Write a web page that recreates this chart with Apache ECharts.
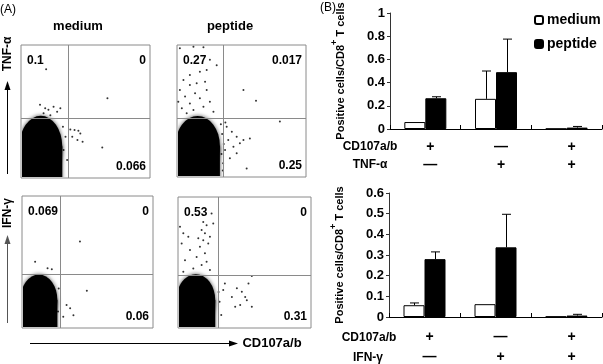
<!DOCTYPE html>
<html>
<head>
<meta charset="utf-8">
<script src="https://cdn.jsdelivr.net/npm/echarts/dist/echarts.min.js"></script>
<style>
  html, body { margin: 0; padding: 0; background: #fff; }
  #chart { width: 603px; height: 364px; }
</style>
</head>
<body>
<div id="chart"></div>
<script>
// ---- panel A: flow plots (axes are log10 fluorescence, 0..4) ----
// gates [x, y]
var gateTL = [1.46, 1.80];
var gateTR = [1.43, 1.79];
var gateBL = [1.16, 1.64];
var gateBR = [1.20, 1.62];
// main population outline [xLeft, xRight, yShoulder, yTop]
var blobTL = [[-0.05, 1.28, 0.95, 1.87]];
var blobTR = [[-0.05, 1.33, 0.95, 1.85]];
var blobBL = [[-0.05, 1.08, 0.85, 1.62]];
var blobBR = [[-0.05, 1.12, 0.85, 1.64]];
// stray events
var dotsTL = [[0.78, 3.27], [2.68, 2.40], [2.52, 0.92], [1.53, 1.46], [1.66, 1.44], [1.78, 1.42],
  [1.84, 1.34], [1.59, 1.24], [1.75, 1.14], [1.91, 1.09], [0.59, 2.20], [0.75, 2.10], [0.85, 2.05],
  [1.01, 2.14], [1.12, 1.99], [0.70, 1.95], [0.91, 1.89], [1.22, 2.10], [1.32, 0.84], [1.38, 1.24],
  [1.30, 1.54], [1.43, 0.54]];
var dotsTR = [[0.09, 3.90], [0.51, 3.95], [0.82, 3.93], [1.02, 3.55], [1.23, 3.39], [0.92, 3.24],
  [0.71, 3.19], [0.40, 3.09], [0.20, 2.94], [0.87, 2.89], [0.61, 2.84], [0.40, 2.79], [0.09, 2.64],
  [0.92, 2.64], [0.56, 2.54], [0.25, 2.44], [0.71, 2.39], [0.04, 2.28], [0.40, 2.23], [1.02, 2.28],
  [0.82, 2.13], [0.15, 2.08], [0.51, 2.03], [1.13, 1.98], [0.30, 1.93], [2.06, 2.64], [2.45, 2.31],
  [3.19, 1.68], [1.54, 1.52], [1.70, 1.37], [1.85, 1.22], [1.59, 1.12], [1.95, 1.02], [1.75, 0.92],
  [2.06, 1.12], [2.26, 1.17], [1.49, 0.82], [1.85, 0.72], [1.64, 0.57], [2.16, 0.26], [1.43, 0.42],
  [1.40, 1.30], [1.45, 1.00], [1.38, 0.70], [1.50, 1.65], [1.36, 1.60], [1.42, 0.20]];
var dotsBL = [[0.40, 2.01], [0.78, 1.81], [0.91, 1.78], [1.77, 2.62], [1.98, 1.13], [1.36, 0.70],
  [1.47, 0.60], [1.57, 0.39], [1.26, 0.34], [1.12, 1.20], [1.10, 0.50]];
var dotsBR = [[0.76, 3.24], [0.86, 3.14], [0.71, 2.99], [0.81, 2.89], [0.96, 2.79], [0.61, 2.74],
  [0.76, 2.68], [0.91, 2.58], [0.66, 2.48], [0.16, 2.89], [0.31, 2.79], [0.11, 2.58], [0.36, 2.38],
  [0.81, 2.28], [0.56, 2.17], [0.21, 2.07], [0.86, 2.02], [0.71, 1.92], [0.46, 1.82], [0.96, 1.77],
  [0.16, 1.72], [1.01, 3.50], [1.06, 3.19], [0.06, 3.09], [2.22, 1.59], [2.12, 1.36], [1.77, 1.21],
  [1.92, 1.11], [2.07, 0.85], [2.22, 0.65], [1.87, 0.70], [1.72, 0.65], [1.62, 0.95], [1.36, 1.16],
  [1.41, 1.36], [2.02, 0.95], [1.25, 0.80], [1.30, 0.40], [1.22, 1.10]];
// quadrant frequencies [UL, UR, LR]
var freqTL = ['0.1', '0', '0.066'];
var freqTR = ['0.27', '0.017', '0.25'];
var freqBL = ['0.069', '0', '0.06'];
var freqBR = ['0.53', '0', '0.31'];

// ---- panel B: bar charts ----
var groups = ['CD107+ / cyt-', 'CD107- / cyt+', 'CD107+ / cyt+'];
var cd107Signs = ['+', '—', '+'];
var tnfSigns = ['—', '+', '+'];
var ifnSigns = ['—', '+', '+'];
var tnfMedium = [0.06, 0.26, 0.002];
var tnfMediumErr = [0.068, 0.50, 0.002];
var tnfPeptide = [0.265, 0.49, 0.012];
var tnfPeptideErr = [0.278, 0.775, 0.022];
var ifnMedium = [0.057, 0.062, 0.002];
var ifnMediumErr = [0.068, 0.066, 0.002];
var ifnPeptide = [0.28, 0.337, 0.007];
var ifnPeptideErr = [0.315, 0.497, 0.013];
var tnfTicks = { max: 1, interval: 0.2 };
var ifnTicks = { max: 0.6, interval: 0.1 };

var FONT = "'Liberation Sans', Arial, sans-serif";
var flowGrids = [
  { left: 21, top: 45, width: 129, height: 133 },
  { left: 177, top: 45, width: 129, height: 132 },
  { left: 22, top: 196, width: 131, height: 132 },
  { left: 178, top: 197, width: 133, height: 131 }
];
var flowSets = [
  { gate: gateTL, blob: blobTL, dots: dotsTL, freq: freqTL },
  { gate: gateTR, blob: blobTR, dots: dotsTR, freq: freqTR },
  { gate: gateBL, blob: blobBL, dots: dotsBL, freq: freqBL },
  { gate: gateBR, blob: blobBR, dots: dotsBR, freq: freqBR }
];

var grids = [], xAxes = [], yAxes = [], series = [], graphics = [];

flowGrids.forEach(function (g, i) {
  grids.push({ left: g.left, top: g.top, width: g.width, height: g.height, show: true,
    borderColor: '#8a8a8a', borderWidth: 1, backgroundColor: 'transparent' });
  xAxes.push({ gridIndex: i, type: 'value', min: 0, max: 4, show: false });
  yAxes.push({ gridIndex: i, type: 'value', min: 0, max: 4, show: false });
  var set = flowSets[i];
  // population blob: column with a rounded dome
  series.push({
    type: 'custom', xAxisIndex: i, yAxisIndex: i, data: set.blob, silent: true,
    renderItem: function (params, api) {
      var x0 = api.value(0), x1 = api.value(1), ym = api.value(2), yt = api.value(3);
      var bl = api.coord([x0, 0]), sh = api.coord([x1, ym]);
      var mid = api.coord([(x0 + x1) / 2, ym]);
      var r = api.size([(x1 - x0) / 2, yt - ym]);
      var cs = params.coordSys;
      var st = { fill: '#000', shadowBlur: 4, shadowColor: 'rgba(0,0,0,0.7)' };
      return {
        type: 'group',
        clipPath: { type: 'rect', shape: { x: cs.x + 1, y: cs.y, width: cs.width - 1, height: cs.height - 1 } },
        children: [
          { type: 'rect', shape: { x: bl[0], y: sh[1], width: sh[0] - bl[0], height: bl[1] - sh[1] + 6 }, style: st },
          { type: 'circle', x: mid[0], y: mid[1], scaleX: r[0], scaleY: r[1],
            shape: { cx: 0, cy: 0, r: 1 }, style: st }
        ]
      };
    }
  });
  // stray events + quadrant gates
  series.push({
    type: 'scatter', xAxisIndex: i, yAxisIndex: i, data: set.dots, symbolSize: 2,
    itemStyle: { color: '#000' }, silent: true,
    markLine: {
      silent: true, symbol: 'none', label: { show: false }, animation: false,
      lineStyle: { color: '#8a8a8a', type: 'solid', width: 1 },
      data: [{ xAxis: set.gate[0] }, { yAxis: set.gate[1] }]
    }
  });
  // quadrant numbers
  var tf = 'bold 12px ' + FONT;
  graphics.push({ type: 'text', x: g.left + 6, y: g.top + 16,
    style: { text: set.freq[0], font: tf, fill: '#000', align: 'left', verticalAlign: 'middle' } });
  graphics.push({ type: 'text', x: g.left + g.width - 4, y: g.top + 16,
    style: { text: set.freq[1], font: tf, fill: '#000', align: 'right', verticalAlign: 'middle' } });
  graphics.push({ type: 'text', x: g.left + g.width - 4, y: g.top + g.height - 11,
    style: { text: set.freq[2], font: tf, fill: '#000', align: 'right', verticalAlign: 'middle' } });
});

// bar chart grids
var barGrids = [
  { left: 390, right: 1, top: 13, height: 116 },
  { left: 389, right: 1, top: 193, height: 126 }
];
var barSets = [
  { medium: tnfMedium, mediumErr: tnfMediumErr, peptide: tnfPeptide, peptideErr: tnfPeptideErr, ticks: tnfTicks, row2: tnfSigns, lh: 18, margin: 9 },
  { medium: ifnMedium, mediumErr: ifnMediumErr, peptide: ifnPeptide, peptideErr: ifnPeptideErr, ticks: ifnTicks, row2: ifnSigns, lh: 20, margin: 10 }
];

function errSeries(gi, vals, errs, side) {
  var rows = vals.map(function (v, k) { return [k, v, errs[k]]; });
  return {
    type: 'custom', xAxisIndex: gi, yAxisIndex: gi, data: rows, z: 5, silent: true,
    encode: { x: 0, y: 2 },
    renderItem: function (params, api) {
      var lo = api.coord([api.value(0), api.value(1)]);
      var hi = api.coord([api.value(0), api.value(2)]);
      if (Math.abs(lo[1] - hi[1]) < 1) return null;
      var x = Math.round(lo[0] + side * 10.5) + 0.5;
      var st = { stroke: '#000', lineWidth: 1 };
      return { type: 'group', children: [
        { type: 'line', shape: { x1: x, y1: lo[1], x2: x, y2: hi[1] }, style: st },
        { type: 'line', shape: { x1: x - 4.5, y1: hi[1], x2: x + 4.5, y2: hi[1] }, style: st }
      ] };
    }
  };
}

barGrids.forEach(function (g, j) {
  var gi = 4 + j;
  var b = barSets[j];
  grids.push(g);
  xAxes.push({
    gridIndex: gi, type: 'category', data: groups,
    axisLine: { lineStyle: { color: '#000', width: 1 } },
    axisTick: { show: true, inside: true, length: 4, lineStyle: { color: '#000' } },
    axisLabel: {
      margin: b.margin, interval: 0,
      formatter: function (v, k) { return '{s|' + cd107Signs[k] + '}\n{s|' + b.row2[k] + '}'; },
      rich: { s: { fontSize: 14, fontWeight: 'bold', fontFamily: FONT, color: '#000', lineHeight: b.lh, padding: [0, 0, 0, 10] } }
    }
  });
  yAxes.push({
    gridIndex: gi, type: 'value', min: 0, max: b.ticks.max, interval: b.ticks.interval,
    splitLine: { show: false },
    axisLine: { show: true, lineStyle: { color: '#333' } },
    axisTick: { show: true, length: 3, lineStyle: { color: '#333' } },
    axisLabel: { color: '#000', fontSize: 13, fontWeight: 'bold', fontFamily: FONT, margin: 5 },
    name: '{a|Positive cells/CD8}{s|+}{a| T cells}',
    nameLocation: 'middle', nameRotate: 90, nameGap: 44,
    nameTextStyle: {
      rich: {
        a: { fontSize: 11, fontWeight: 'bold', fontFamily: FONT, color: '#000', lineHeight: 16, verticalAlign: 'bottom' },
        s: { fontSize: 9, fontWeight: 'bold', fontFamily: FONT, color: '#000', lineHeight: 16, verticalAlign: 'top' }
      }
    }
  });
  series.push({
    name: 'medium', type: 'bar', xAxisIndex: gi, yAxisIndex: gi, data: b.medium,
    barWidth: 21, barGap: '0%',
    itemStyle: { color: '#fff', borderColor: '#000', borderWidth: 1 }
  });
  series.push({
    name: 'peptide', type: 'bar', xAxisIndex: gi, yAxisIndex: gi, data: b.peptide,
    barWidth: 21, barGap: '0%',
    itemStyle: { color: '#000', borderColor: '#000', borderWidth: 1 }
  });
  series.push(errSeries(gi, b.medium, b.mediumErr, -1));
  series.push(errSeries(gi, b.peptide, b.peptideErr, 1));
});

// labels and arrows
function txt(t, x, y, font, opts) {
  var o = { type: 'text', x: x, y: y, z: 10,
    style: { text: t, font: font, fill: '#000', align: 'center', verticalAlign: 'middle' } };
  if (opts && opts.rotation) o.rotation = opts.rotation;
  if (opts && opts.fill) o.style.fill = opts.fill;
  return o;
}
var B12 = 'bold 12px ' + FONT, B13 = 'bold 13px ' + FONT;
graphics.push(txt('(A)', 8, 10, '12px ' + FONT));
graphics.push(txt('(B)', 328, 8, '12px ' + FONT));
graphics.push(txt('medium', 78, 26, B13));
graphics.push(txt('peptide', 230, 26, B13));
graphics.push(txt('TNF-α', 8, 54, B12, { rotation: Math.PI / 2 }));
graphics.push(txt('IFN-γ', 8, 213, B12, { rotation: Math.PI / 2 }));
graphics.push(txt('CD107a/b', 272, 343, B13));
graphics.push(txt('CD107a/b', 370, 147, B12));
graphics.push(txt('TNF-α', 370, 165, B12));
graphics.push(txt('CD107a/b', 369, 338, B12));
graphics.push(txt('IFN-γ', 368, 358, B12));
// axis arrows
graphics.push({ type: 'line', shape: { x1: 7.5, y1: 174, x2: 7.5, y2: 88 }, style: { stroke: '#000', lineWidth: 1 } });
graphics.push({ type: 'polygon', shape: { points: [[7.5, 81], [4.5, 90], [10.5, 90]] }, style: { fill: '#000' } });
graphics.push({ type: 'line', shape: { x1: 7.5, y1: 323, x2: 7.5, y2: 242 }, style: { stroke: '#555', lineWidth: 1 } });
graphics.push({ type: 'polygon', shape: { points: [[7.5, 235], [4.5, 244], [10.5, 244]] }, style: { fill: '#555' } });
graphics.push({ type: 'line', shape: { x1: 30, y1: 343.5, x2: 230, y2: 343.5 }, style: { stroke: '#000', lineWidth: 1 } });
graphics.push({ type: 'polygon', shape: { points: [[238, 343.5], [229, 340.5], [229, 346.5]] }, style: { fill: '#000' } });

var chart = echarts.init(document.getElementById('chart'));
chart.setOption({
  animation: false,
  backgroundColor: '#fff',
  textStyle: { fontFamily: FONT },
  grid: grids,
  xAxis: xAxes,
  yAxis: yAxes,
  legend: {
    data: ['medium', 'peptide'], orient: 'vertical', left: 529, top: 8,
    itemWidth: 8, itemHeight: 8, itemGap: 10,
    textStyle: { fontSize: 14, fontWeight: 'bold', fontFamily: FONT, color: '#000', padding: [0, 0, 0, -1] }
  },
  series: series,
  graphic: graphics
});
</script>
</body>
</html>
